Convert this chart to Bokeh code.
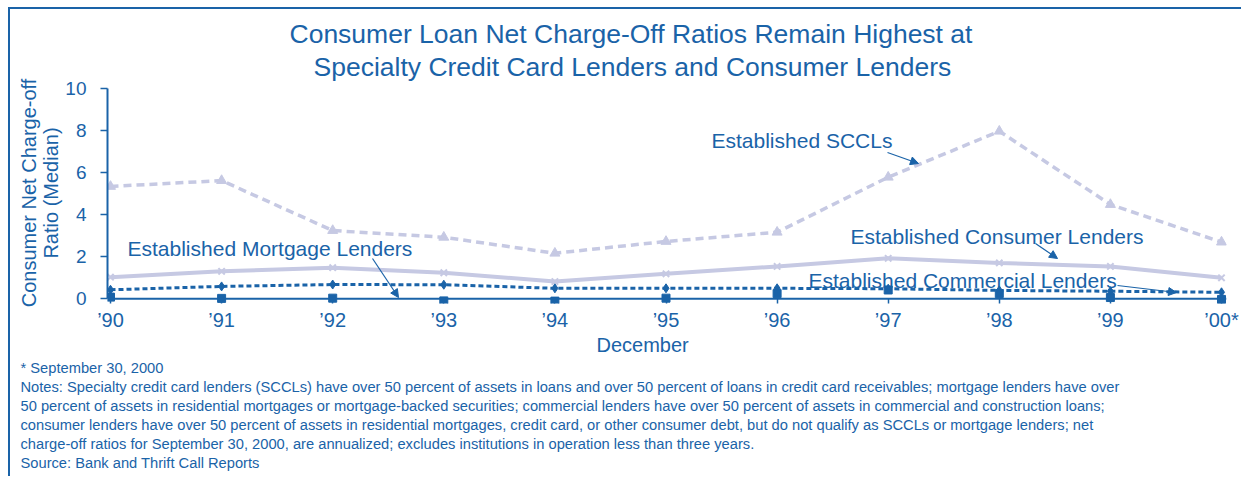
from bokeh.plotting import figure
from bokeh.models import Label, Arrow, NormalHead, FixedTicker, Range1d, Title, Span
from bokeh.embed import file_html
from bokeh.resources import INLINE

# ---------------- data ----------------
years = [1990, 1991, 1992, 1993, 1994, 1995, 1996, 1997, 1998, 1999, 2000]
tick_labels = ["\u201990", "\u201991", "\u201992", "\u201993", "\u201994", "\u201995",
               "\u201996", "\u201997", "\u201998", "\u201999", "\u201900*"]
sccl = [5.35, 5.63, 3.25, 2.93, 2.17, 2.73, 3.17, 5.79, 7.98, 4.49, 2.70]
consumer = [1.03, 1.31, 1.48, 1.24, 0.82, 1.19, 1.54, 1.93, 1.71, 1.54, 1.00]
commercial = [0.43, 0.59, 0.68, 0.67, 0.50, 0.50, 0.50, 0.48, 0.40, 0.36, 0.31]
mortgage = [0.08, 0.02, 0.03, -0.10, -0.11, 0.03, 0.25, 0.42, 0.25, 0.06, -0.03]
y_ticks = [0, 2, 4, 6, 8, 10]

title_lines = ["Consumer Loan Net Charge-Off Ratios Remain Highest at",
               "Specialty Credit Card Lenders and Consumer Lenders"]
ylabel_text = "Consumer Net Charge-off\nRatio (Median)"
xlabel_text = "December"
note_lines = [
    "* September 30, 2000",
    "Notes: Specialty credit card lenders (SCCLs) have over 50 percent of assets in loans and over 50 percent of loans in credit card receivables; mortgage lenders have over",
    "50 percent of assets in residential mortgages or mortgage-backed securities; commercial lenders have over 50 percent of assets in commercial and construction loans;",
    "consumer lenders have over 50 percent of assets in residential mortgages, credit card, or other consumer debt, but do not qualify as SCCLs or mortgage lenders; net",
    "charge-off ratios for September 30, 2000, are annualized; excludes institutions in operation less than three years.",
    "Source: Bank and Thrift Call Reports",
]

BLUE = "#1a63a8"
LILAC = "#c6c9e3"
FONT = "Liberation Sans"

# ---------------- layout geometry ----------------
OX, OY = 10, 9                      # canvas origin on the page (margin + border)
FIG_W, FIG_H = 1243 - OX, 478 - OY
FL, FR, FT, FB = 107, 1226, 82, 303  # frame edges on the page
PX_PER_YEAR = 111.1
PX_PER_UNIT = 21.0
Y0 = 298.3                           # page y of value 0
XS = 1990 - (110 - FL) / PX_PER_YEAR
XE = XS + (FR - FL) / PX_PER_YEAR
YS = -(FB - Y0) / PX_PER_UNIT
YE = (Y0 - FT) / PX_PER_UNIT


def dx(px):
    return XS + (px - FL) / PX_PER_YEAR


def dy(py):
    return YS + (FB - py) / PX_PER_UNIT


p = figure(width=FIG_W, height=FIG_H, output_backend="svg", toolbar_location=None,
           x_range=Range1d(XS, XE), y_range=Range1d(YS, YE),
           min_border_left=FL - OX, min_border_right=OX + FIG_W - FR,
           min_border_top=FT - OY, min_border_bottom=OY + FIG_H - FB)
p.outline_line_color = None
p.grid.grid_line_color = None
p.background_fill_color = "white"
p.border_fill_color = "white"
p.styles = {"border-top": "2px solid " + BLUE, "border-left": "2px solid " + BLUE,
            "margin-top": "7px", "margin-left": "8px"}

# ---------------- series ----------------
p.line(years, sccl, line_color=LILAC, line_width=3.5, line_dash="8 5")
p.scatter(years, sccl, marker="triangle", size=10, fill_color=LILAC, line_color=LILAC)

p.line(years, consumer, line_color=LILAC, line_width=4)
p.scatter(years, consumer, marker="x", size=9, line_color=LILAC, line_width=2)

p.line(years, commercial, line_color=BLUE, line_width=3, line_dash="5 3")
p.scatter(years, commercial, marker="diamond", size=9, fill_color=BLUE, line_color=BLUE)

p.scatter(years, mortgage, marker="square", size=8, fill_color=BLUE, line_color=BLUE)

# x axis baseline at zero
p.add_layout(Span(location=0, dimension="width", line_color=BLUE, line_width=2))

# ---------------- axes ----------------
xa = p.xaxis[0]
xa.ticker = FixedTicker(ticks=years)
xa.major_label_overrides = dict(zip(years, tick_labels))
xa.axis_line_color = None
xa.major_tick_line_color = BLUE
xa.major_tick_line_width = 1.5
xa.major_tick_in = int(round(FB - Y0))
xa.major_tick_out = 0
xa.minor_tick_line_color = None
xa.major_label_standoff = 5
xa.major_label_text_font = FONT
xa.major_label_text_font_size = "20px"
xa.major_label_text_color = BLUE

ya = p.yaxis[0]
ya.bounds = (0, 10)
ya.ticker = FixedTicker(ticks=y_ticks)
ya.axis_line_color = BLUE
ya.axis_line_width = 2
ya.major_tick_line_color = BLUE
ya.major_tick_line_width = 1.5
ya.major_tick_in = 0
ya.major_tick_out = 7
ya.minor_tick_line_color = None
ya.major_label_standoff = 14
ya.major_label_text_font = FONT
ya.major_label_text_font_size = "19px"
ya.major_label_text_color = BLUE
ya.axis_label = ylabel_text
ya.axis_label_standoff = 0
ya.axis_label_text_font = FONT
ya.axis_label_text_font_size = "20px"
ya.axis_label_text_font_style = "normal"
ya.axis_label_text_color = BLUE
ya.axis_label_text_line_height = 1.0


def title(text, left_px, size, place, standoff, valign="bottom"):
    p.add_layout(Title(text=text, align="left", offset=left_px - FL, text_font=FONT,
                       text_font_size=size, text_font_style="normal",
                       text_color=BLUE, standoff=standoff, vertical_align=valign), place)


# main title (above: later-added goes on top)
title(title_lines[1], 289 + (686 - 638) // 2, "26.5px", "above", 2)
title(title_lines[0], 289, "26.5px", "above", 0)

# x axis title and notes (below: later-added goes further down)
title(xlabel_text, 596, "20px", "below", 0, "top")
for t in note_lines:
    title(t, 20, "14.7px", "below", 1)


def label(x, y, text, size, align="left"):
    p.add_layout(Label(x=x, y=y, text=text, text_font=FONT, text_font_size=size,
                       text_color=BLUE, text_align=align, text_baseline="middle"))


# series annotations with arrows
label(dx(711), dy(140), "Established SCCLs", "21px")
label(dx(127), dy(248), "Established Mortgage Lenders", "21px")
label(dx(850), dy(236), "Established Consumer Lenders", "21px")
label(dx(808), dy(280), "Established Commercial Lenders", "21px")

arrows = [((887, 152), (918, 163)),
          ((372, 258), (398, 297)),
          ((1035, 243), (1057, 258)),
          ((1117, 285), (1176, 292))]
for (x0, y0), (x1, y1) in arrows:
    p.add_layout(Arrow(x_start=dx(x0), y_start=dy(y0), x_end=dx(x1), y_end=dy(y1),
                       line_color=BLUE, line_width=1.2,
                       end=NormalHead(size=8, fill_color=BLUE, line_color=BLUE)))

open("out.html", "w").write(file_html(p, INLINE))
